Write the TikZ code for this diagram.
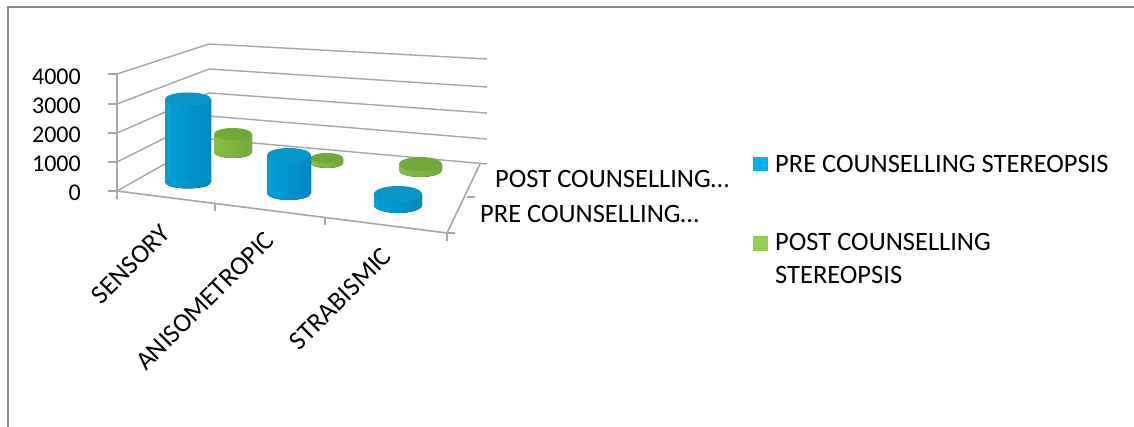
\documentclass[tikz,border=0pt]{standalone}
\usepackage{fontspec}
\setmainfont{Carlito}
\definecolor{gridc}{HTML}{A6A6A6}
\definecolor{framec}{HTML}{8C8C8C}
\definecolor{bluel}{HTML}{00A0DA}
\definecolor{bluem}{HTML}{2AC6F6}
\definecolor{bluer}{HTML}{0088BE}
\definecolor{bluetop}{HTML}{0796C8}
\definecolor{greenl}{HTML}{86C044}
\definecolor{greenm}{HTML}{A4DC5C}
\definecolor{greenr}{HTML}{74AC38}
\definecolor{greentop}{HTML}{72AA3A}
\definecolor{legblue}{HTML}{00B0F0}
\definecolor{leggreen}{HTML}{92D050}
\newcommand\cylndr[7]{%
  \fill[#6] (#1-#2,#3) -- (#1-#2,#4)
    arc[start angle=180,end angle=360,x radius=#2pt,y radius=#5pt]
    -- (#1+#2,#3)
    arc[start angle=360,end angle=180,x radius=#2pt,y radius=#5pt] -- cycle;
  \fill[#7] (#1,#3) ellipse[x radius=#2pt,y radius=#5pt];
}
\tikzset{
  grid/.style={draw=gridc, line width=1.4pt},
  axisline/.style={draw=gridc, line width=1.6pt},
  bluecyl/.style={left color=bluel, middle color=bluem, right color=bluer},
  greencyl/.style={left color=greenl, middle color=greenm, right color=greenr},
  num/.style={font=\fontsize{24}{29}\selectfont, inner sep=0pt},
  lbl/.style={font=\fontsize{26.5}{32}\selectfont, inner sep=0pt},
}
\begin{document}
\begin{tikzpicture}[x=1pt,y=-1pt]
\useasboundingbox (0,0) rectangle (1134,427);
\fill[white] (0,0) rectangle (1134,427);
% frame
\draw[framec, line width=2pt] (8,427) -- (8,7) -- (1134,7);
% wall corner coordinates
\coordinate (f0) at (117,191);
\coordinate (f1) at (117,162);
\coordinate (f2) at (117,133);
\coordinate (f3) at (117,104);
\coordinate (f4) at (117,74);
\coordinate (b0) at (209,139);
\coordinate (b1) at (209,116);
\coordinate (b2) at (209,93);
\coordinate (b3) at (209,69);
\coordinate (b4) at (209,44);
\coordinate (r0) at (487,164);
\coordinate (r1) at (487,139);
\coordinate (r2) at (487,113);
\coordinate (r3) at (487,87);
\coordinate (r4) at (487,59);
\coordinate (fr) at (447,233);
\coordinate (rc) at (480,164);
% gridlines
\foreach \i in {0,...,4}{
  \draw[grid] (f\i) -- (b\i) -- (r\i);
}
% axes
\draw[axisline] (f4) -- (f0) -- (fr) -- (rc);
\foreach \i in {0,...,4}{ \draw[axisline] (f\i) -- ++(-9,0); }
\coordinate (t1) at (215,203.5);
\coordinate (t2) at (325,217.5);
\coordinate (t3) at (467,197);
\draw[axisline] (f0) -- ++(0,8);
\draw[axisline] (t1) -- ++(0,8);
\draw[axisline] (t2) -- ++(0,8);
\draw[axisline] (fr) -- ++(0,8);
\draw[axisline] (fr) -- ++(8,0);
\draw[axisline] (t3) -- ++(8,0);
% cylinders: back row (post) first
\cylndr{233}{19}{134}{152}{6}{greencyl}{greentop}
\cylndr{327}{16}{158}{163}{5}{greencyl}{greentop}
\cylndr{420.5}{21.5}{164}{170}{7}{greencyl}{greentop}
\cylndr{188}{23}{99}{182}{6.5}{bluecyl}{bluetop}
\cylndr{289}{22}{155}{193}{7}{bluecyl}{bluetop}
\cylndr{398}{24}{194}{205}{8}{bluecyl}{bluetop}
% y labels
\node[num, anchor=east] (y4) at (81,77) {4000};
\node[num, anchor=east] (y3) at (81,106) {3000};
\node[num, anchor=east] (y2) at (81,135) {2000};
\node[num, anchor=east] (y1) at (81,164) {1000};
\node[num, anchor=east] (y0) at (81,193) {0};
% category labels
\node[lbl, anchor=east, rotate=45] (c1) at (166,229) {SENSORY};
\node[lbl, anchor=east, rotate=45] (c2) at (270,236) {ANISOMETROPIC};
\node[lbl, anchor=east, rotate=45] (c3) at (387,252) {STRABISMIC};
% depth labels
\node[lbl, anchor=west] (d2) at (495,179) {POST COUNSELLING…};
\node[lbl, anchor=west] (d1) at (480,214) {PRE COUNSELLING…};
% legend
\fill[legblue] (753,157) rectangle (768,171);
\fill[leggreen] (753,236) rectangle (768,251);
\node[lbl, anchor=west] (l1) at (775,164) {PRE COUNSELLING STEREOPSIS};
\node[lbl, anchor=north west, align=left, font=\fontsize{26.5}{33}\selectfont] (l2) at (775,233) {POST COUNSELLING\\STEREOPSIS};
\end{tikzpicture}
\end{document}
